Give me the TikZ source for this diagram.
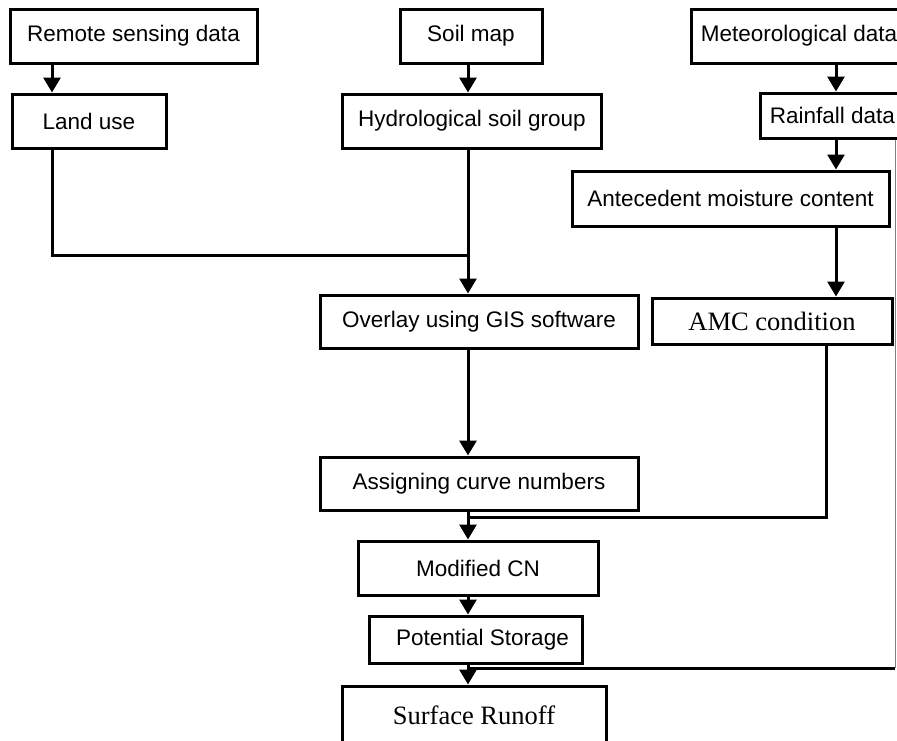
\documentclass[tikz,border=0pt]{standalone}
\usepackage{fontspec}
\setmainfont{Liberation Sans}
\newfontfamily\serifrm{Liberation Serif}
\usetikzlibrary{arrows.meta}

\begin{document}
\begin{tikzpicture}[x=1pt, y=-1pt,
    box/.style={draw, line width=3pt, inner sep=0pt, font=\fontsize{22.5}{27}\selectfont},
    serifbox/.style={box, font=\serifrm\fontsize{26.5}{31}\selectfont},
    arr/.style={line width=3pt, -{Triangle[width=17pt,length=15pt]}},
    link/.style={line width=3pt}]
    \useasboundingbox (0,0) rectangle (897,740);

    % Input data
    \node[box, minimum width=247pt, minimum height=54pt] (rsd) at (133.5,36) {Remote sensing data};
    \node[box, minimum width=142pt, minimum height=54pt] (soil) at (471,36) {Soil map};
    \node[box, minimum width=215pt, minimum height=54pt] (met) at (799,36) {Meteorological data};

    % Derived layers
    \node[box, minimum width=154pt, minimum height=54pt] (land) at (89,121) {Land use};
    \node[box, minimum width=259pt, minimum height=54pt] (hsg) at (472,121) {Hydrological soil group};
    \node[box, minimum width=145pt, minimum height=45pt] (rain) at (832.5,115.5) {Rainfall data};
    \node[box, minimum width=317pt, minimum height=55pt] (amc) at (730.5,198.5) {Antecedent moisture content};
    \node[serifbox, minimum width=240pt, minimum height=46pt] (amccond) at (772,321) {AMC condition};

    % Processing chain
    \node[box, minimum width=318pt, minimum height=53pt] (overlay) at (479,321.5) {Overlay using GIS software};
    \node[box, minimum width=318pt, minimum height=53pt] (acn) at (479,483.5) {Assigning curve numbers};
    \node[box, minimum width=240pt, minimum height=54pt] (mcn) at (478,568) {Modified CN};
    \node[box, minimum width=213pt, minimum height=47pt] (ps) at (475.5,639.5) {\hspace{14pt}Potential Storage};
    \node[serifbox, minimum width=264pt, minimum height=58pt] (sr) at (474,715) {Surface Runoff};

    % Columns and joints
    \coordinate (lcol) at (52,0);
    \coordinate (mid) at (468,0);
    \coordinate (rcol) at (836,0);
    \coordinate (acol) at (826,0);
    \coordinate (edge) at (895,0);
    \coordinate (j1) at (468,255);
    \coordinate (j2) at (468,517);
    \coordinate (j3) at (468,668);

    % Arrows
    \draw[arr] (rsd.south -| lcol) -- (land.north -| lcol);
    \draw[link] (land.south -| lcol) |- (j1);
    \draw[arr] (soil.south -| mid) -- (hsg.north -| mid);
    \draw[arr] (hsg.south -| mid) -- (overlay.north -| mid);
    \draw[arr] (overlay.south -| mid) -- (acn.north -| mid);
    \draw[arr] (acn.south -| mid) -- (mcn.north -| mid);
    \draw[arr] (mcn.south -| mid) -- (ps.north -| mid);
    \draw[arr] (ps.south -| mid) -- (sr.north -| mid);
    \draw[arr] (met.south -| rcol) -- (rain.north -| rcol);
    \draw[arr] (rain.south -| rcol) -- (amc.north -| rcol);
    \draw[arr] (amc.south -| rcol) -- (amccond.north -| rcol);
    \draw[link] (amccond.south -| acol) |- (j2);
    \draw[gray, line width=1pt] (rain.south -| edge) -- (j3 -| edge);
    \draw[link] (j3 -| edge) -- (j3);

\end{tikzpicture}
\end{document}
